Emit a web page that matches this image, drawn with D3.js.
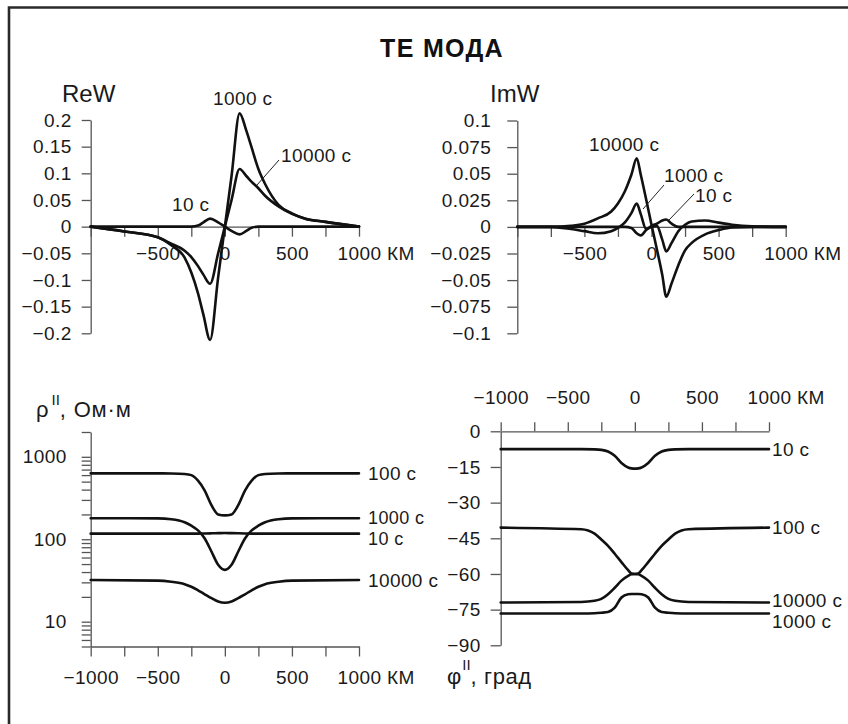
<!DOCTYPE html>
<html>
<head>
<meta charset="utf-8">
<script src="https://cdn.jsdelivr.net/npm/d3@7"></script>
<style>
  body { margin: 0; background: #fff; }
  svg { display: block; font-family: "Liberation Sans", Arial, Helvetica, sans-serif; }
  .axis path, .axis line { stroke: #555; stroke-width: 1.3; fill: none; }
  .axis text { fill: #1a1a1a; font-size: 19px; letter-spacing: 0.4px; }
  .curve { fill: none; stroke: #111; stroke-width: 2.6; stroke-linejoin: round; stroke-linecap: round; }
  .lbl { fill: #1a1a1a; font-size: 19px; letter-spacing: 0.4px; }
  .lbl-tight { fill: #1a1a1a; font-size: 18px; letter-spacing: 0.4px; }
  .leader { stroke: #222; stroke-width: 1; }
</style>
</head>
<body>
<svg id="chart" width="848" height="724"></svg>
<script>
// ---------- ReW (TE mode tipper, real part) ----------
const reKm = [-1000, -750, -500, -400, -300, -250, -200, -160, -110, -50, 0, 50, 110, 160, 200, 250, 300, 400, 500, 600, 750, 1000];
const reW10    = [0, 0, 0, 0, 0, 0, 0.002, 0.008, 0.0150, 0.008, 0, -0.008, -0.0145, -0.008, -0.002, 0, 0, 0, 0, 0, 0, 0];
const reW1000  = [0, -0.009, -0.020, -0.035, -0.058, -0.086, -0.125, -0.165, -0.2125, -0.095, 0, 0.095, 0.2125, 0.180, 0.148, 0.108, 0.080, 0.041, 0.025, 0.015, 0.009, 0];
const reW10000 = [0, -0.009, -0.020, -0.032, -0.045, -0.057, -0.074, -0.090, -0.107, -0.050, 0, 0.050, 0.108, 0.095, 0.084, 0.072, 0.058, 0.038, 0.024, 0.015, 0.009, 0];
const reTicks = [0.2, 0.15, 0.1, 0.05, 0, -0.05, -0.1, -0.15, -0.2];

// ---------- ImW (TE mode tipper, imaginary part) ----------
const imKm = [-1000, -750, -600, -500, -400, -300, -250, -200, -150, -110, -80, -40, 0, 40, 80, 110, 150, 200, 250, 300, 400, 500, 600, 750, 1000];
const imW10    = [0, 0, 0, 0, 0, 0, 0, 0, -0.001, -0.006, -0.008, -0.003, 0.001, 0.003, 0.006, 0.007, 0.003, 0, 0, 0, 0, 0, 0, 0, 0];
const imW1000  = [0, 0, -0.002, -0.004, -0.006, -0.004, -0.001, 0.004, 0.013, 0.022, 0.012, -0.002, 0, 0.001, -0.012, -0.023, -0.015, -0.004, 0.002, 0.005, 0.006, 0.004, 0.002, 0.0005, 0];
const imW10000 = [0, 0, 0.001, 0.003, 0.008, 0.0145, 0.022, 0.033, 0.049, 0.0645, 0.049, 0.026, 0.002, -0.021, -0.045, -0.0655, -0.053, -0.036, -0.022, -0.015, -0.007, -0.003, -0.0005, 0, 0];
const imTicks = [0.1, 0.075, 0.05, 0.025, 0, -0.025, -0.05, -0.075, -0.1];

// ---------- apparent resistivity, Ohm·m ----------
const rhoKm = [-1000, -500, -400, -300, -250, -200, -150, -100, -50, 0, 50, 100, 150, 200, 250, 300, 400, 500, 1000];
const rho10    = [117, 117, 117, 117, 117, 117, 117.5, 118, 118.5, 119, 118.5, 118, 117.5, 117, 117, 117, 117, 117, 117];
const rho100   = [630, 630, 628, 620, 600, 515, 390, 260, 200, 195, 200, 260, 390, 515, 600, 620, 628, 630, 630];
const rho1000  = [180, 179, 175, 161, 146, 128, 102, 71, 49, 42.5, 49, 71, 102, 128, 146, 161, 175, 179, 180];
const rho10000 = [32, 31.5, 30.5, 28.5, 26.5, 24, 21.5, 19.3, 17.6, 17, 17.6, 19.3, 21.5, 24, 26.5, 28.5, 30.5, 31.5, 32];
const rhoLabels = [10, 100, 1000];

// ---------- impedance phase, degrees ----------
const phKm = [-1000, -400, -300, -250, -200, -150, -100, -50, -25, 0, 25, 50, 100, 150, 200, 250, 300, 400, 1000];
const ph10    = [-7.5, -7.5, -7.6, -7.8, -8.5, -10.3, -13.3, -15.2, -15.6, -15.7, -15.6, -15.2, -13.3, -10.3, -8.5, -7.8, -7.6, -7.5, -7.5];
const ph100   = [-40.5, -41.2, -43, -45.5, -48.2, -51.5, -55, -58.4, -59.8, -60, -59.8, -58.4, -55, -51.5, -48.2, -45.5, -43, -41.2, -40.5];
const ph1000  = [-76.6, -76.6, -76.5, -76.3, -76, -74.2, -69.9, -68.5, -68.4, -68.4, -68.4, -68.5, -69.9, -74.2, -76, -76.3, -76.5, -76.6, -76.6];
const ph10000 = [-72, -71.8, -71.3, -70.5, -68.5, -65.8, -62.8, -60.8, -60.1, -60, -60.1, -60.8, -62.8, -65.8, -68.5, -70.5, -71.3, -71.8, -72];
const phTicks = [0, -15, -30, -45, -60, -75, -90];

const kmTicks = [-1000, -750, -500, -250, 0, 250, 500, 750, 1000];

// ---------- helpers ----------
const svg = d3.select("#chart");
svg.append("rect").attr("width", 848).attr("height", 724).attr("fill", "#fff");

// frame
svg.append("path").attr("d", "M9,724V7.5H848").attr("fill", "none")
  .attr("stroke", "#2a2a2a").attr("stroke-width", 2.6);

const minus = s => String(s).replace("-", "\u2212");

function addUnit(axisG) {
  const t = axisG.selectAll(".tick text").filter(d => d === 1000);
  const w = t.node().getComputedTextLength();
  t.attr("text-anchor", "start").attr("x", -w / 2).append("tspan").text(" КМ");
}

function drawCurves(g, x, y, xs, series) {
  const line = d3.line().x((d, i) => x(xs[i])).y(d => y(d)).curve(d3.curveMonotoneX);
  series.forEach(s => g.append("path").attr("class", "curve").attr("d", line(s)));
}

function label(g, x, y, text, cls) {
  g.append("text").attr("class", cls || "lbl").attr("x", x).attr("y", y).text(text);
}
function leader(g, x1, y1, x2, y2) {
  g.append("line").attr("class", "leader").attr("x1", x1).attr("y1", y1).attr("x2", x2).attr("y2", y2);
}

// title
svg.append("text").attr("x", 442).attr("y", 57).attr("text-anchor", "middle")
  .attr("font-size", 25).attr("font-weight", "bold").attr("letter-spacing", "1.3px")
  .attr("fill", "#111").text("TE МОДА");

// ---------- ReW panel ----------
{
  const g = svg.append("g");
  const x = d3.scaleLinear().domain([-1000, 1000]).range([90.7, 359]);
  const y = d3.scaleLinear().domain([-0.2, 0.2]).range([333.3, 120]);
  g.append("g").attr("class", "axis").attr("transform", `translate(${x(-1000)},0)`)
    .call(d3.axisLeft(y).tickValues(reTicks).tickSize(9).tickPadding(10).tickSizeOuter(0).tickFormat(minus));
  const ax = g.append("g").attr("class", "axis").attr("transform", `translate(0,${y(0)})`)
    .call(d3.axisBottom(x).tickValues(kmTicks).tickSize(10).tickPadding(10).tickSizeOuter(0)
      .tickFormat(d => (d % 500 === 0 && d > -1000) ? minus(d) : ""));
  addUnit(ax);
  drawCurves(g, x, y, reKm, [reW10, reW10000, reW1000]);
  g.append("text").attr("x", 62).attr("y", 102).attr("font-size", 24).attr("fill", "#1a1a1a").text("ReW");
  label(g, 213, 105, "1000 с");
  label(g, 281, 162, "10000 с");
  leader(g, 279, 160, 257, 185);
  label(g, 172, 211, "10 с");
}

// ---------- ImW panel ----------
{
  const g = svg.append("g");
  const x = d3.scaleLinear().domain([-1000, 1000]).range([517.3, 785.7]);
  const y = d3.scaleLinear().domain([-0.1, 0.1]).range([333.3, 120.5]);
  g.append("g").attr("class", "axis").attr("transform", `translate(${x(-1000)},0)`)
    .call(d3.axisLeft(y).tickValues(imTicks).tickSize(10).tickPadding(16).tickSizeOuter(0).tickFormat(minus));
  const ax = g.append("g").attr("class", "axis").attr("transform", `translate(0,${y(0)})`)
    .call(d3.axisBottom(x).tickValues(kmTicks).tickSize(10).tickPadding(10).tickSizeOuter(0)
      .tickFormat(d => (d % 500 === 0 && d > -1000) ? minus(d) : ""));
  addUnit(ax);
  drawCurves(g, x, y, imKm, [imW10, imW1000, imW10000]);
  g.append("text").attr("x", 490).attr("y", 102).attr("font-size", 24).attr("fill", "#1a1a1a").text("ImW");
  label(g, 589, 151, "10000 с");
  label(g, 664, 182, "1000 с");
  leader(g, 664, 185, 643, 209);
  label(g, 695, 202, "10 с");
  leader(g, 694, 194, 669, 220);
}

// ---------- apparent resistivity panel ----------
{
  const g = svg.append("g");
  const x = d3.scaleLinear().domain([-1000, 1000]).range([90.7, 359]);
  const y = d3.scaleLog().domain([5, 2000]).range([646.5, 432]);
  const minor = [];
  [1, 10, 100, 1000].forEach(p => [1, 2, 3, 4, 5, 6, 7, 8, 9].forEach(m => {
    const v = m * p; if (v >= 5 && v <= 2000) minor.push(v);
  }));
  g.append("g").attr("class", "axis").attr("transform", `translate(${x(-1000)},0)`)
    .call(d3.axisLeft(y).tickValues(minor).tickSize(9).tickPadding(15).tickSizeOuter(0)
      .tickFormat(d => rhoLabels.includes(d) ? String(d) : ""));
  const ax = g.append("g").attr("class", "axis").attr("transform", `translate(0,${y(5)})`)
    .call(d3.axisBottom(x).tickValues(kmTicks).tickSize(10).tickPadding(14).tickSizeOuter(0)
      .tickFormat(d => d % 500 === 0 ? minus(d) : ""));
  addUnit(ax);
  drawCurves(g, x, y, rhoKm, [rho10, rho100, rho1000, rho10000]);
  const t = g.append("text").attr("x", 36).attr("y", 417).attr("font-size", 22).attr("fill", "#1a1a1a");
  t.append("tspan").text("ρ");
  t.append("tspan").attr("dx", 3).attr("dy", -12).attr("font-size", 15).text("II");
  t.append("tspan").attr("dy", 12).attr("letter-spacing", "0.8px").text(", Ом·м");
  label(g, 368, 480, "100 с");
  label(g, 368, 524, "1000 с", "lbl-tight");
  label(g, 368, 545, "10 с", "lbl-tight");
  label(g, 368, 587, "10000 с");
}

// ---------- phase panel ----------
{
  const g = svg.append("g");
  const x = d3.scaleLinear().domain([-1000, 1000]).range([500.7, 769]);
  const y = d3.scaleLinear().domain([-90, 0]).range([645.3, 431.3]);
  g.append("g").attr("class", "axis").attr("transform", `translate(${x(-1000)},0)`)
    .call(d3.axisLeft(y).tickValues(phTicks).tickSize(10).tickPadding(10).tickSizeOuter(0).tickFormat(minus));
  const ax = g.append("g").attr("class", "axis").attr("transform", `translate(0,${y(0)})`)
    .call(d3.axisTop(x).tickValues(kmTicks).tickSize(9).tickPadding(18).tickSizeOuter(0)
      .tickFormat(d => d % 500 === 0 ? minus(d) : ""));
  addUnit(ax);
  drawCurves(g, x, y, phKm, [ph10, ph100, ph10000, ph1000]);
  const t = g.append("text").attr("x", 447).attr("y", 684).attr("font-size", 22).attr("fill", "#1a1a1a");
  t.append("tspan").text("φ");
  t.append("tspan").attr("dx", 1).attr("dy", -14).attr("font-size", 15).text("II");
  t.append("tspan").attr("dy", 14).attr("letter-spacing", "0.6px").text(", град");
  label(g, 772, 456, "10 с");
  label(g, 772, 534, "100 с");
  label(g, 772, 607, "10000 с");
  label(g, 772, 628, "1000 с");
}
</script>
</body>
</html>
